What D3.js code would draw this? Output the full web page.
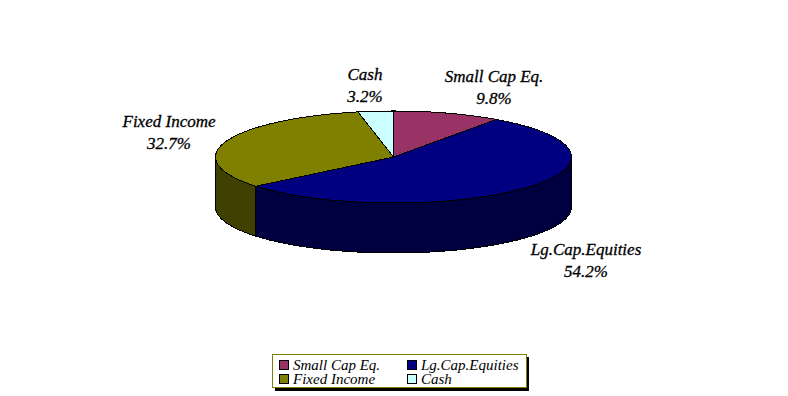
<!DOCTYPE html>
<html>
<head>
<meta charset="utf-8">
<script src="https://cdn.jsdelivr.net/npm/d3@7"></script>
<style>
html, body { margin: 0; padding: 0; background: #fff; }
text { font-family: "Liberation Serif", serif; font-style: italic; fill: #000; }
.lbl { font-size: 17px; stroke: #000; stroke-width: 0.3px; text-anchor: middle; }
.leg { font-size: 15px; }
</style>
</head>
<body>
<svg id="chart" width="788" height="396"></svg>
<script>
var categories = ["Small Cap Eq.", "Lg.Cap.Equities", "Fixed Income", "Cash"];
var shares = [9.8, 54.2, 32.7, 3.2];
var shareLabels = ["9.8%", "54.2%", "32.7%", "3.2%"];
var topColors = ["#993366", "#000080", "#808000", "#ccffff"];
var sideColors = ["#4d1a33", "#000040", "#404000", "#668080"];

// where each label pair sits, same order as categories
var labelX = [494, 586, 169, 365];
var labelY = [82, 255, 127, 80];

var CX = 393.5, CY = 157, RX = 178, RY = 46, DEPTH = 50;

var svg = d3.select("#chart");

var slices = d3.pie().sort(null).value(function(d) { return d; })(shares);

var line = d3.line()
	.x(function(p) { return p[0]; })
	.y(function(p) { return p[1]; });

function rim(a, dy) {
	return [CX + RX * Math.sin(a), CY - RY * Math.cos(a) + dy];
}

function sampleAngles(a0, a1) {
	var n = Math.max(2, Math.ceil((a1 - a0) * 60));
	return d3.range(n + 1).map(function(i) { return a0 + (a1 - a0) * i / n; });
}

function topPath(s) {
	var pts = sampleAngles(s.startAngle, s.endAngle).map(function(a) { return rim(a, 0); });
	return line([[CX, CY]].concat(pts)) + "Z";
}

// only the part of the rim facing the viewer gets a wall
function wallPath(s) {
	var a0 = Math.max(s.startAngle, Math.PI / 2);
	var a1 = Math.min(s.endAngle, Math.PI * 1.5);
	if (a1 <= a0) return null;
	var angles = sampleAngles(a0, a1);
	var upper = angles.map(function(a) { return rim(a, 0); });
	var lower = angles.slice().reverse().map(function(a) { return rim(a, DEPTH); });
	return line(upper.concat(lower)) + "Z";
}

var pie = svg.append("g").attr("shape-rendering", "crispEdges");

pie.selectAll("path.wall")
	.data(slices.filter(function(s) { return wallPath(s); }))
	.enter()
	.append("path")
		.attr("class", "wall")
		.attr("d", wallPath)
		.attr("fill", function(d) { return sideColors[d.index]; })
		.attr("stroke", "#000");

pie.selectAll("path.top")
	.data(slices)
	.enter()
	.append("path")
		.attr("class", "top")
		.attr("d", topPath)
		.attr("fill", function(d) { return topColors[d.index]; })
		.attr("stroke", "#000");

var labels = svg.selectAll("g.lbl")
	.data(categories)
	.enter()
	.append("g")
		.attr("class", "lbl")
		.attr("transform", function(d, i) { return "translate(" + labelX[i] + "," + labelY[i] + ")"; });

labels.append("text").attr("class", "lbl").text(function(d) { return d; });
labels.append("text").attr("class", "lbl").attr("y", 22)
	.text(function(d, i) { return shareLabels[i]; });

// legend
var legend = svg.append("g").attr("shape-rendering", "crispEdges");

legend.append("rect")
	.attr("x", 275).attr("y", 357).attr("width", 254).attr("height", 34)
	.attr("fill", "#000");
legend.append("rect")
	.attr("x", 272.5).attr("y", 354.5).attr("width", 254).attr("height", 33)
	.attr("fill", "#fff").attr("stroke", "#808000");

var legendCol = d3.scaleOrdinal().domain([0, 1]).range([279, 407]);
var legendRow = d3.scaleOrdinal().domain([0, 1]).range([360, 374]);

var items = legend.selectAll("g.item")
	.data(categories)
	.enter()
	.append("g")
		.attr("class", "item")
		.attr("transform", function(d, i) {
			return "translate(" + legendCol(i % 2) + "," + legendRow(Math.floor(i / 2)) + ")";
		});

items.append("rect")
	.attr("x", 0.5).attr("y", 0.5).attr("width", 9).attr("height", 9)
	.attr("fill", function(d, i) { return topColors[i]; })
	.attr("stroke", "#000");

items.append("text")
	.attr("class", "leg")
	.attr("x", 14).attr("y", 10)
	.text(function(d) { return d; });
</script>
</body>
</html>
